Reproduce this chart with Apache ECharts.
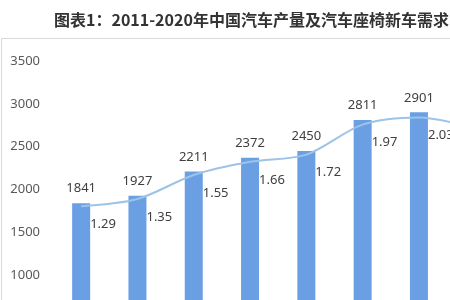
<!DOCTYPE html>
<html>
<head>
<meta charset="utf-8">
<script src="https://cdn.jsdelivr.net/npm/echarts@6/dist/echarts.min.js"></script>
<style>
  html, body { margin: 0; padding: 0; background: #fff; }
  #chart { width: 450px; height: 300px; }
</style>
</head>
<body>
<div id="chart"></div>
<script>
// 年份
const years = ['2011', '2012', '2013', '2014', '2015', '2016', '2017', '2018', '2019', '2020'];
// 汽车产量（万辆）
const production = [1841, 1927, 2211, 2372, 2450, 2811, 2901, 2781, 2572, 2523];
// 汽车座椅新车需求（亿个）
const seatDemand = [1.29, 1.35, 1.55, 1.66, 1.72, 1.97, 2.03, 1.94, 1.80, 1.77];
const titleText = '图表1：2011-2020年中国汽车产量及汽车座椅新车需求';

const chart = echarts.init(document.getElementById('chart'));

const option = {
  animation: false,
  textStyle: { fontFamily: '"Noto Sans", "Noto Sans CJK SC", sans-serif' },
  title: {
    text: titleText,
    left: 49,
    top: 7,
    textStyle: {
      fontFamily: '"Noto Sans CJK SC", sans-serif',
      fontSize: 16,
      fontWeight: 'bold',
      color: '#333333'
    }
  },
  graphic: [
    {
      type: 'rect',
      shape: { x: 1.5, y: 38.5, width: 460, height: 270 },
      style: { fill: 'none', stroke: '#d9d9d9', lineWidth: 1 },
      silent: true
    }
  ],
  // 原图被裁切，网格延伸到画布之外
  grid: { left: 53, top: 61, width: 563, height: 300, outerBoundsMode: 'none', containLabel: false },
  xAxis: {
    type: 'category',
    data: years,
    axisLine: { show: false },
    axisTick: { show: false },
    axisLabel: { show: false }
  },
  yAxis: [
    {
      type: 'value',
      min: 0,
      max: 3500,
      interval: 500,
      splitLine: { show: false },
      axisLine: { show: false },
      axisTick: { show: false },
      axisLabel: {
        color: '#595959',
        fontSize: 13,
        margin: 13,
        formatter: (v) => String(v)
      }
    },
    {
      type: 'value',
      min: 0,
      max: 2.5,
      show: false,
      splitLine: { show: false }
    }
  ],
  series: [
    {
      name: '汽车产量',
      type: 'bar',
      data: production,
      barWidth: 18,
      itemStyle: { color: '#6a9fe4' },
      label: {
        show: true,
        position: 'top',
        distance: 8,
        color: '#404040',
        fontSize: 13
      },
      z: 2
    },
    {
      name: '汽车座椅新车需求',
      type: 'line',
      yAxisIndex: 1,
      data: seatDemand,
      smooth: 0.3,
      symbol: 'circle',
      symbolSize: 0,
      showSymbol: true,
      lineStyle: { color: '#9dc3e6', width: 2 },
      itemStyle: { color: '#9dc3e6' },
      label: {
        show: true,
        position: 'right',
        distance: 9,
        offset: [0, 18],
        color: '#404040',
        fontSize: 13,
        formatter: (p) => p.value.toFixed(2)
      },
      z: 3
    }
  ]
};

chart.setOption(option);
</script>
</body>
</html>
